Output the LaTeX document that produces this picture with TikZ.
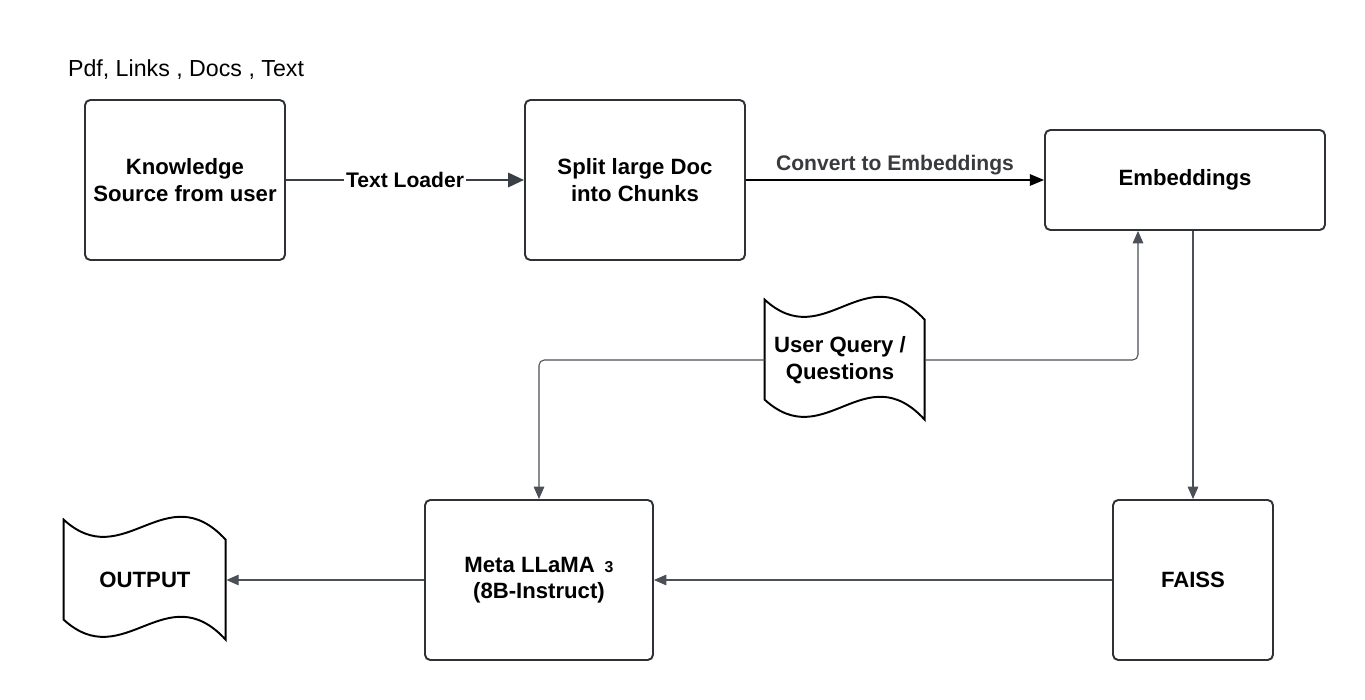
\documentclass[tikz,border=0pt]{standalone}
\usepackage{fontspec}
\setmainfont{Liberation Sans}
\usetikzlibrary{arrows.meta,positioning}
\definecolor{boxline}{HTML}{2E3136}
\definecolor{wire}{HTML}{4B5058}
\definecolor{loader}{HTML}{3A3F47}
\definecolor{label}{HTML}{383A3E}

\begin{document}
\begin{tikzpicture}[
  box/.style={draw=boxline, line width=1.1pt, rounded corners=3pt, align=center, inner sep=0pt, font=\bfseries\fontsize{12.6}{15}\selectfont},
  page/.style={draw=black, line width=1.1pt, fill=white},
  doc/.style={inner sep=0pt, align=center, font=\bfseries\fontsize{12.6}{15}\selectfont},
  wire/.style={draw=wire, line width=0.6pt, -{Triangle[length=7pt,width=6pt]}}
]
  \fill[white] (0,0) rectangle (27.3,14);
  \useasboundingbox (0,0) rectangle (27.3,14);

  \node[box, minimum width=4cm, minimum height=3.2cm] (Source) at (3.7,10.4) {Knowledge\\Source from user};  % Input
  \node[font=\fontsize{13.2}{15}\selectfont] (Types) at (3.72,12.6) {Pdf, Links , Docs , Text};
  \node[box, minimum width=4.4cm, minimum height=3.2cm] (Chunks) at (12.7,10.4) {Split large Doc\\into Chunks};
  \node[box, minimum width=5.6cm, minimum height=2cm] (Embed) at (23.7,10.4) {Embeddings};
  \node[box, minimum width=3.2cm, minimum height=3.2cm] (Faiss) at (23.86,2.4) {FAISS};
  \node[box, minimum width=4.56cm, minimum height=3.2cm] (Llama) at (10.78,2.4) {Meta LLaMA \,{\fontsize{9}{10}\selectfont 3}\\(8B-Instruct)};

  % Wavy pages
  \node[doc, minimum width=3.2cm, minimum height=2.4cm] (Query) at (16.9,6.8) {};
  \draw[page] (Query.north west) .. controls +(1.2,-1.1) and +(-1.2,1.3) .. ++(3.2,-0.4) -- ++(0,-2.0)
    .. controls +(-1.2,1.3) and +(1.2,-1.1) .. ++(-3.2,0.4) -- cycle;
  \node[doc] at ([xshift=-0.1cm]Query) {User Query /\\Questions};
  \node[doc, minimum width=3.24cm, minimum height=2.4cm] (Output) at (2.9,2.4) {};
  \draw[page] (Output.north west) .. controls +(1.2,-1.1) and +(-1.2,1.3) .. ++(3.24,-0.4) -- ++(0,-2.0)
    .. controls +(-1.2,1.3) and +(1.2,-1.1) .. ++(-3.24,0.4) -- cycle;
  \node[doc] at (Output) {OUTPUT};

  % Connectors
  \draw[draw=loader, line width=1.6pt, -{Triangle[length=9pt,width=8pt]}] (Source) -- (Chunks)
    node[midway, fill=white, inner sep=1pt, font=\bfseries\fontsize{12}{14}\selectfont]{Text Loader};
  \draw[draw=black, line width=0.7pt, -{Triangle[length=8pt,width=6.5pt]}] (Chunks) -- (Embed)
    node[midway, above=-1pt, text=label, font=\bfseries\fontsize{12}{14}\selectfont]{Convert to Embeddings};
  \draw[wire] (Embed.south -| Faiss.north) -- (Faiss.north);
  \draw[wire, rounded corners=3pt] (Query.east) -| ([xshift=-0.94cm]Embed.south);
  \draw[wire, rounded corners=3pt] (Query.west) -| (Llama.north);
  \draw[wire] (Faiss) -- (Llama);
  \draw[wire] (Llama) -- (Output);
\end{tikzpicture}
\end{document}
